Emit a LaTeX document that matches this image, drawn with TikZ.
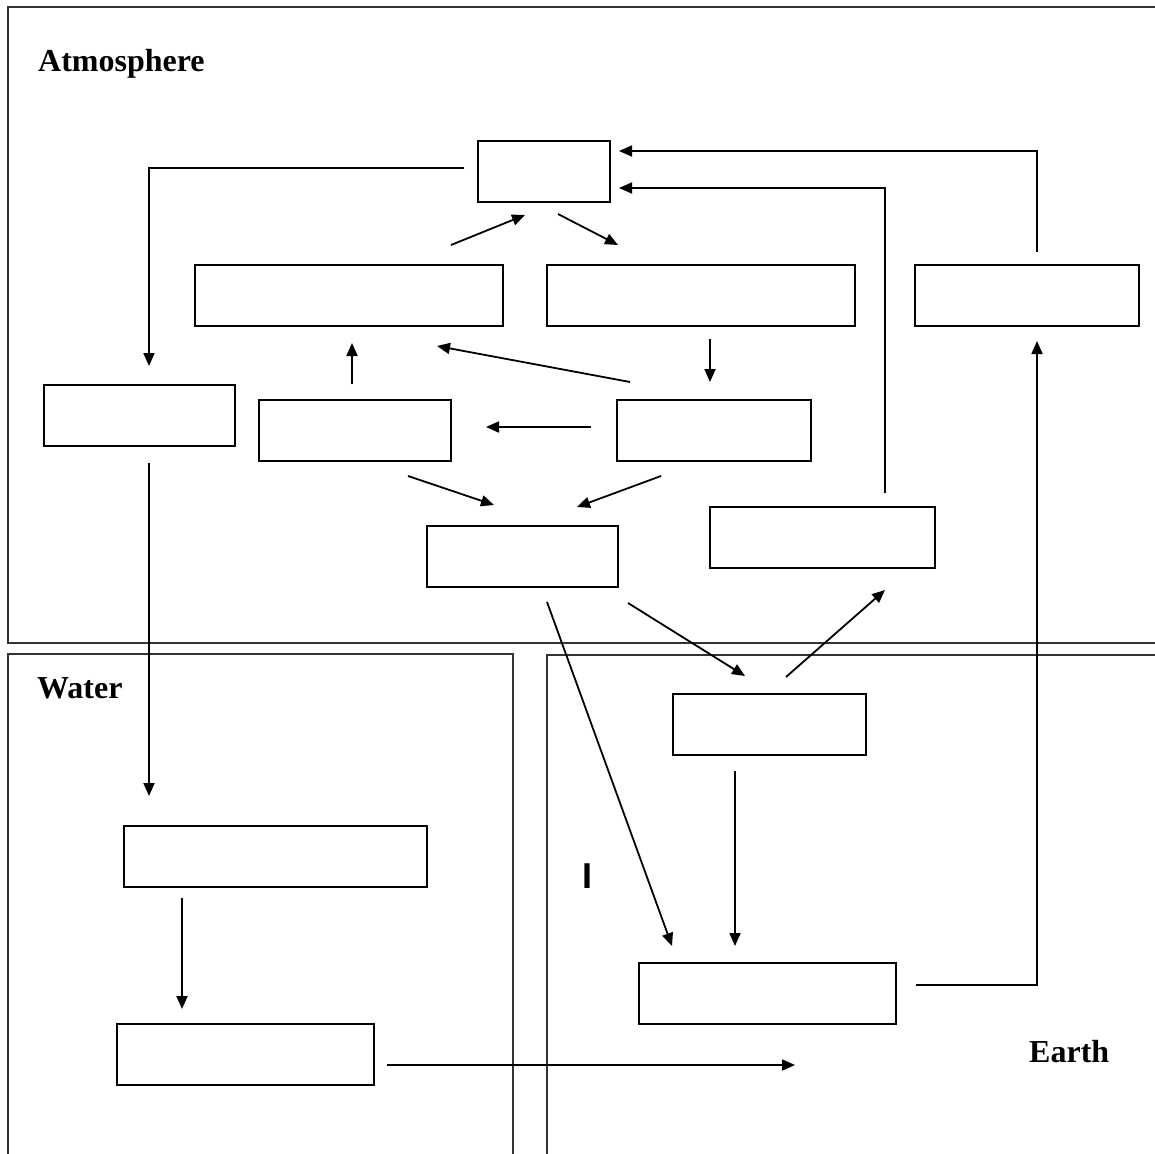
\documentclass[tikz,border=0pt]{standalone}
\usepackage{fontspec}
\setmainfont{Liberation Serif}
\newfontfamily\barfont{Liberation Sans}
\usetikzlibrary{calc,arrows.meta}
\begin{document}
\begin{tikzpicture}[x=1pt,y=-1pt,
  frame/.style={draw=black!80,line width=2.8pt},
  box/.style={draw,line width=2pt,inner sep=0pt,minimum height=61pt},
  arr/.style={line width=1.8pt,-{Triangle[length=13pt,width=11pt]}},
  region/.style={font=\fontsize{32}{32}\selectfont\bfseries,inner sep=0pt}]
\useasboundingbox (0,0) rectangle (1155,1153);
\clip (0,0) rectangle (1155,1153);

% the three regions
\draw[frame] (8,7) rectangle (1170,643);
\draw[frame] (8,654) rectangle (513,1170);
\draw[frame] (547,655) rectangle (1170,1170);

\node[region,anchor=base west] (atm) at (38,72) {Atmosphere};
\node[region,anchor=base west] (wat) at (37,698) {Water};
\node[region,anchor=base west] (ear) at (1029,1062) {Earth};
\node[anchor=base,inner sep=0pt,font=\barfont\fontsize{36}{36}\selectfont\bfseries] (mark) at (587.5,888) {I};

% empty boxes
\node[box,minimum width=132pt] (b1) at (544,171.5) {};
\node[box,minimum width=308pt] (b2) at (349,295.5) {};
\node[box,minimum width=308pt] (b3) at (701,295.5) {};
\node[box,minimum width=224pt] (b4) at (1027,295.5) {};
\node[box,minimum width=191pt] (b5) at (139.5,415.5) {};
\node[box,minimum width=192pt] (b6) at (355,430.5) {};
\node[box,minimum width=194pt] (b7) at (714,430.5) {};
\node[box,minimum width=191pt] (b8) at (522.5,556.5) {};
\node[box,minimum width=225pt] (b9) at (822.5,537.5) {};
\node[box,minimum width=193pt] (b10) at (769.5,724.5) {};
\node[box,minimum width=303pt] (b11) at (275.5,856.5) {};
\node[box,minimum width=257pt] (b12) at (767.5,993.5) {};
\node[box,minimum width=257pt] (b13) at (245.5,1054.5) {};
\coordinate (free) at (795,1065);

% connectors
\draw[arr] ($(b1.west)+(-13,-3.5)$) -| ($(b5.north)+(9.5,-18)$);
\draw[arr] ($(b4.north)+(10,-12)$) |- ($(b1.east)+(8,-20.5)$);
\draw[arr] ($(b9.north)+(62.5,-13)$) |- ($(b1.east)+(8,16.5)$);
\draw[arr] ($(b2.north)+(102,-19)$) -- ($(b1.south)+(-19,12)$);
\draw[arr] ($(b1.south)+(14,11)$) -- ($(b3.north)+(-83,-19)$);
\draw[arr] ($(b6.north)+(-3,-15)$) -- ($(b2.south)+(3,16)$);
\draw[arr] ($(b7.north)+(-84,-17)$) -- ($(b2.south)+(88,19)$);
\draw[arr] ($(b3.south)+(9,12)$) -- ($(b7.north)+(-4,-17)$);
\draw[arr] ($(b7.west)+(-25,-3.5)$) -- ($(b6.east)+(34,-3.5)$);
\draw[arr] ($(b6.south)+(53,14)$) -- ($(b8.north)+(-28.5,-20)$);
\draw[arr] ($(b7.south)+(-53,14)$) -- ($(b8.north)+(54.5,-18)$);
\draw[arr] ($(b8.south)+(24.5,14)$) -- ($(b12.north)+(-95.5,-16)$);
\draw[arr] ($(b8.south)+(105.5,15)$) -- ($(b10.north)+(-24.5,-17)$);
\draw[arr] ($(b10.north)+(16.5,-16)$) -- ($(b9.south)+(62.5,21)$);
\draw[arr] ($(b10.south)+(-34.5,15)$) -- ($(b12.north)+(-32.5,-16)$);
\draw[arr] ($(b5.south)+(9.5,16)$) -- ($(b11.north)+(-126.5,-29)$);
\draw[arr] ($(b11.south)+(-93.5,10)$) -- ($(b13.north)+(-63.5,-14)$);
\draw[arr] ($(b13.east)+(12,10.5)$) -- (free);
\draw[arr] ($(b12.east)+(19,-8.5)$) -| ($(b4.south)+(10,14)$);
\end{tikzpicture}
\end{document}
